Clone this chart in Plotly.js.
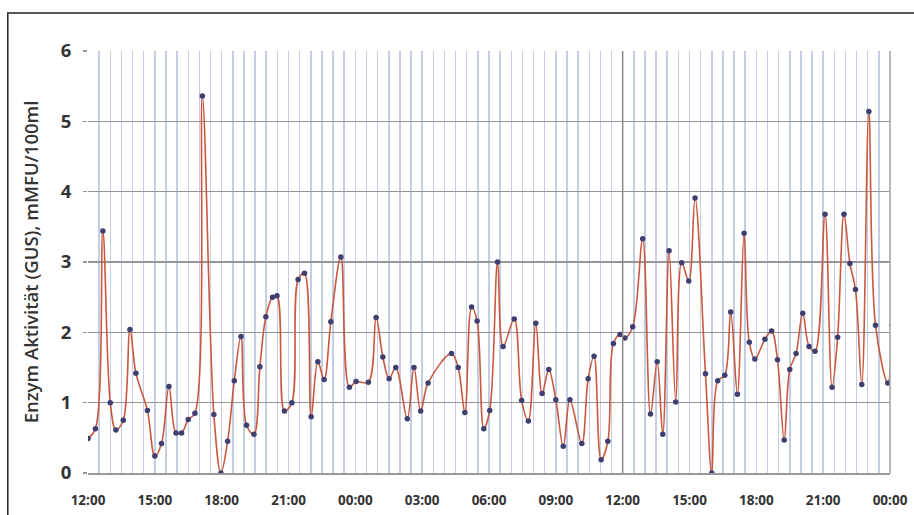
<!DOCTYPE html>
<html>
<head>
<meta charset="utf-8">
<script src="https://cdn.plot.ly/plotly-3.0.1.min.js"></script>
<style>html,body{margin:0;padding:0;background:#fff;}#chart{width:914px;height:515px;}</style>
</head>
<body>
<div id="chart"></div>
<script>
// Sampling times (day 1 12:00 to day 3 00:00)
const times = [
 "2020-01-01 12:00","2020-01-01 12:20","2020-01-01 12:40","2020-01-01 13:00","2020-01-01 13:15",
 "2020-01-01 13:35","2020-01-01 13:53","2020-01-01 14:09","2020-01-01 14:40","2020-01-01 15:00",
 "2020-01-01 15:18","2020-01-01 15:38","2020-01-01 15:57","2020-01-01 16:12","2020-01-01 16:30",
 "2020-01-01 16:48","2020-01-01 17:08","2020-01-01 17:39","2020-01-01 17:58","2020-01-01 18:16",
 "2020-01-01 18:34","2020-01-01 18:52","2020-01-01 19:07","2020-01-01 19:27","2020-01-01 19:43",
 "2020-01-01 19:59","2020-01-01 20:17","2020-01-01 20:29","2020-01-01 20:49","2020-01-01 21:09",
 "2020-01-01 21:26","2020-01-01 21:43","2020-01-01 22:01","2020-01-01 22:19","2020-01-01 22:36",
 "2020-01-01 22:54","2020-01-01 23:21","2020-01-01 23:44","2020-01-02 00:02","2020-01-02 00:35",
 "2020-01-02 00:56","2020-01-02 01:14","2020-01-02 01:31","2020-01-02 01:49","2020-01-02 02:20",
 "2020-01-02 02:38","2020-01-02 02:56","2020-01-02 03:16","2020-01-02 04:19","2020-01-02 04:37",
 "2020-01-02 04:55","2020-01-02 05:13","2020-01-02 05:28","2020-01-02 05:46","2020-01-02 06:02",
 "2020-01-02 06:23","2020-01-02 06:38","2020-01-02 07:08","2020-01-02 07:28","2020-01-02 07:46",
 "2020-01-02 08:06","2020-01-02 08:23","2020-01-02 08:41","2020-01-02 09:00","2020-01-02 09:20",
 "2020-01-02 09:38","2020-01-02 10:10","2020-01-02 10:27","2020-01-02 10:43","2020-01-02 11:02",
 "2020-01-02 11:20","2020-01-02 11:35","2020-01-02 11:53","2020-01-02 12:06","2020-01-02 12:27",
 "2020-01-02 12:54","2020-01-02 13:15","2020-01-02 13:33","2020-01-02 13:48","2020-01-02 14:05",
 "2020-01-02 14:23","2020-01-02 14:39","2020-01-02 14:58","2020-01-02 15:15","2020-01-02 15:43",
 "2020-01-02 16:00","2020-01-02 16:16","2020-01-02 16:35","2020-01-02 16:51","2020-01-02 17:09",
 "2020-01-02 17:27","2020-01-02 17:41","2020-01-02 17:56","2020-01-02 18:23","2020-01-02 18:41",
 "2020-01-02 18:57","2020-01-02 19:15","2020-01-02 19:30","2020-01-02 19:47","2020-01-02 20:05",
 "2020-01-02 20:22","2020-01-02 20:38","2020-01-02 21:05","2020-01-02 21:24","2020-01-02 21:39",
 "2020-01-02 21:56","2020-01-02 22:12","2020-01-02 22:27","2020-01-02 22:44","2020-01-02 23:03",
 "2020-01-02 23:21","2020-01-02 23:54","2020-01-03 00:05"
];
// Enzyme activity (GUS), mMFU/100ml
const activity = [
 0.49,0.63,3.44,1.00,0.61,
 0.75,2.04,1.42,0.89,0.24,
 0.42,1.23,0.57,0.57,0.76,
 0.85,5.36,0.83,0.00,0.45,
 1.31,1.94,0.68,0.55,1.51,
 2.22,2.50,2.52,0.88,1.00,
 2.75,2.84,0.80,1.58,1.33,
 2.15,3.07,1.22,1.30,1.29,
 2.21,1.65,1.34,1.50,0.77,
 1.50,0.88,1.28,1.70,1.50,
 0.86,2.36,2.16,0.63,0.89,
 3.00,1.80,2.19,1.03,0.74,
 2.13,1.13,1.47,1.04,0.38,
 1.04,0.42,1.34,1.66,0.19,
 0.45,1.84,1.97,1.92,2.08,
 3.33,0.84,1.58,0.55,3.16,
 1.01,2.99,2.73,3.91,1.41,
 0.00,1.31,1.39,2.29,1.12,
 3.41,1.86,1.62,1.90,2.02,
 1.61,0.47,1.47,1.70,2.27,
 1.80,1.73,3.68,1.22,1.93,
 3.68,2.98,2.61,1.26,5.14,
 2.10,1.28,2.10
];
const xRange = ["2020-01-01 12:00","2020-01-03 00:00"];
const dayMark = "2020-01-02 12:00";
const yTicks = [0,1,2,3,4,5,6];
const yTitle = "Enzym Aktivität (GUS), mMFU/100ml";

const trace = {
  x: times, y: activity, type: "scatter", mode: "lines+markers",
  line: {shape: "spline", smoothing: 1, color: "#c9583e", width: 1.6},
  marker: {size: 5.5, color: "#3e3f70"},
  cliponaxis: true, hoverinfo: "x+y"
};

const layout = {
  width: 914, height: 515,
  margin: {l: 88, r: 24, t: 51, b: 42},
  paper_bgcolor: "#ffffff", plot_bgcolor: "#ffffff",
  showlegend: false,
  font: {family: "Open Sans, sans-serif", color: "#333333"},
  xaxis: {
    type: "date", range: xRange,
    dtick: 3*3600*1000, tickformat: "%H:%M",
    showgrid: true, gridcolor: "#c3cee4", gridwidth: 1.5,
    minor: {dtick: 30*60*1000, showgrid: true, gridcolor: "#c3cee4", gridwidth: 1.5},
    showline: true, linecolor: "#9a9a9a", linewidth: 1.5,
    ticks: "", ticklabelstandoff: 14,
    tickfont: {family: "Open Sans, sans-serif", size: 13.5, color: "#333333", weight: "bold"},
    zeroline: false, fixedrange: true
  },
  yaxis: {
    range: [0, 6], tickvals: yTicks,
    showgrid: true, gridcolor: "#959595", gridwidth: 1.3,
    showline: false, zeroline: false,
    ticks: "outside", ticklen: 4, tickcolor: "#959595", tickwidth: 1.3,
    ticklabelstandoff: 8,
    tickfont: {family: "Open Sans, sans-serif", size: 18.5, color: "#333333", weight: "bold"},
    title: {text: yTitle, standoff: 17, font: {family: "Open Sans, sans-serif", size: 18.5, color: "#333333", weight: 600}},
    fixedrange: true
  },
  shapes: [
    {type: "line", xref: "x", yref: "paper", x0: dayMark, x1: dayMark, y0: 0, y1: 1,
     line: {color: "#8a8a8a", width: 1.5}},
    {type: "line", xref: "paper", yref: "paper", x0: 1, x1: 1, y0: 0, y1: 1,
     line: {color: "#a0a0a0", width: 1.5}},
    {type: "rect", xref: "paper", yref: "paper", x0: -0.1, x1: 1.2, y0: -0.2, y1: 1.09,
     line: {color: "#222222", width: 1.5}, fillcolor: "rgba(0,0,0,0)", layer: "below"}
  ]
};

Plotly.newPlot("chart", [trace], layout, {displayModeBar: false, staticPlot: true});
</script>
</body>
</html>
